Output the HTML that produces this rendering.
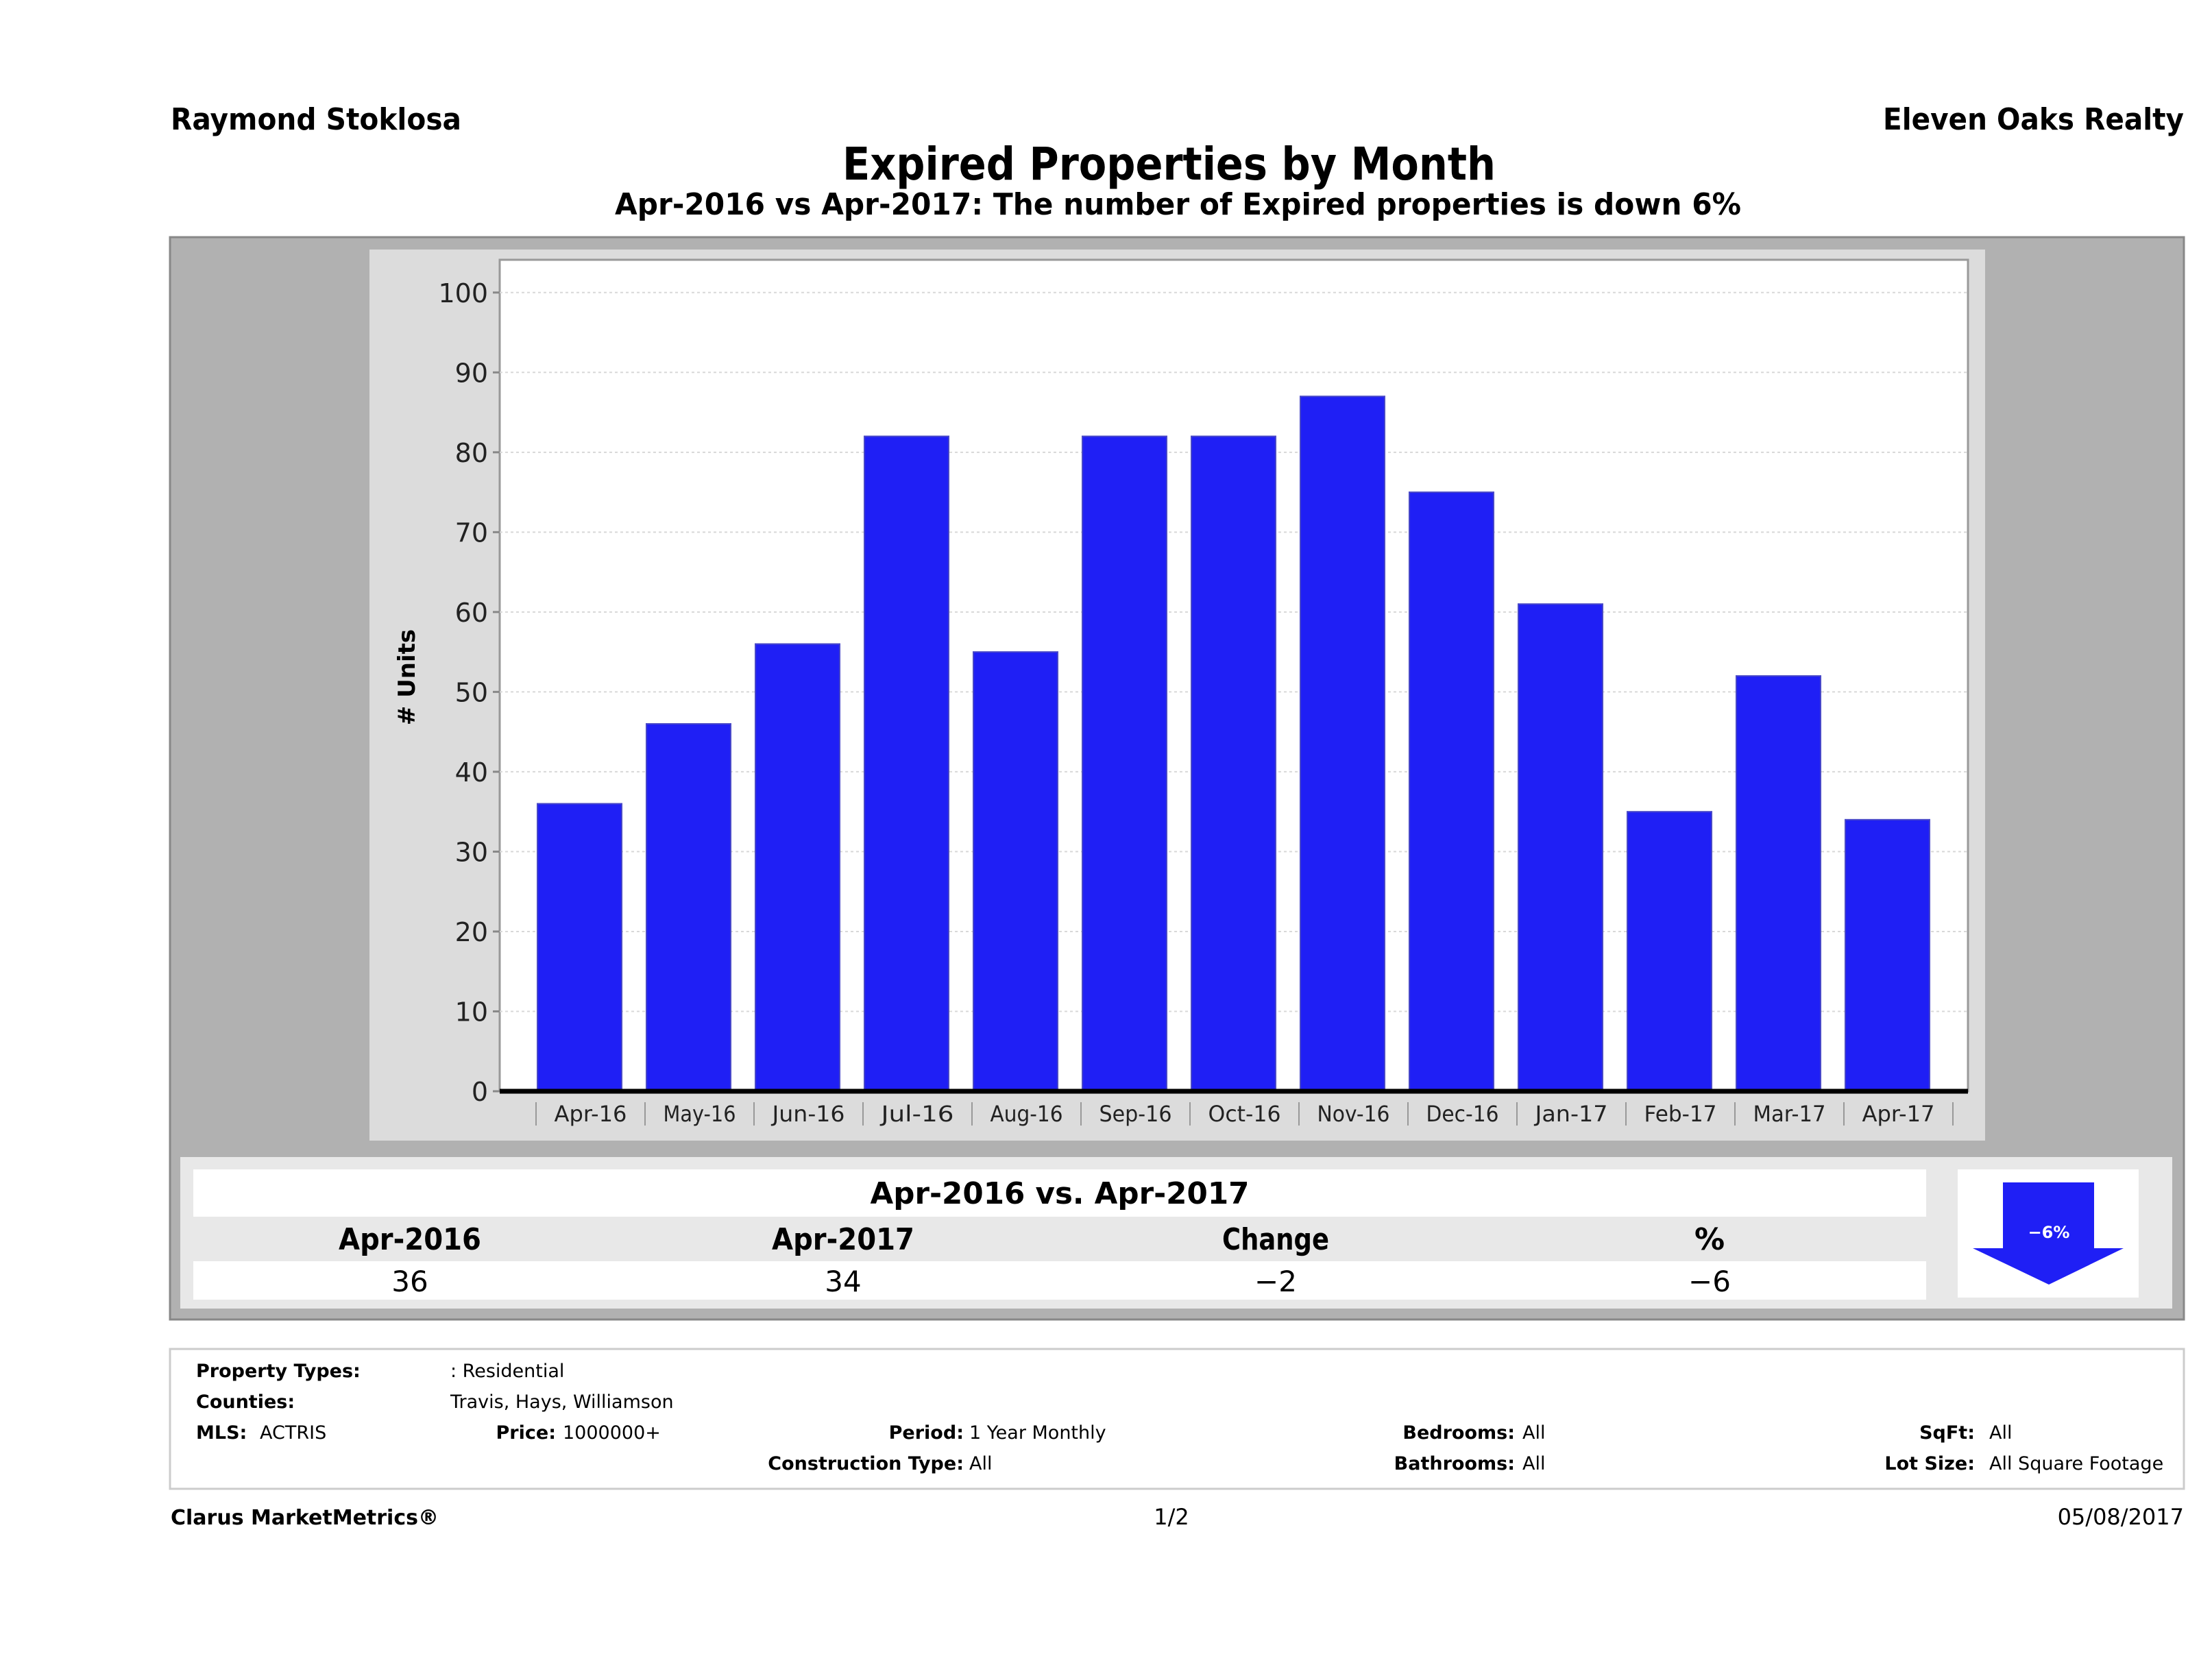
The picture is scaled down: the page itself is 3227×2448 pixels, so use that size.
<!DOCTYPE html>
<html><head><meta charset="utf-8"><style>
html,body{margin:0;padding:0;background:#fff;}
svg{display:block;font-family:"DejaVu Sans","Liberation Sans",sans-serif;}
</style></head><body>
<svg id="page" width="3227" height="2448" viewBox="0 0 3227 2448" xmlns="http://www.w3.org/2000/svg">
<rect x="0" y="0" width="3227" height="2448" fill="#fff"/>
<text x="249" y="189" font-size="44" font-weight="bold" textLength="424" lengthAdjust="spacingAndGlyphs">Raymond Stoklosa</text>
<text x="3186" y="189" font-size="44" font-weight="bold" text-anchor="end" textLength="439" lengthAdjust="spacingAndGlyphs">Eleven Oaks Realty</text>
<text x="1229" y="262" font-size="66" font-weight="bold" textLength="953" lengthAdjust="spacingAndGlyphs">Expired Properties by Month</text>
<text x="897" y="313" font-size="44" font-weight="bold" textLength="1643" lengthAdjust="spacingAndGlyphs">Apr-2016 vs Apr-2017: The number of Expired  properties is down 6%</text>

<rect x="248" y="346" width="2938" height="1579" fill="#b1b1b1" stroke="#888" stroke-width="3"/>
<rect x="539" y="364" width="2357" height="1300" fill="#dcdcdc"/>
<rect x="729" y="379" width="2142" height="1213" fill="#fff" stroke="#999" stroke-width="3"/>
<g id="grid"></g>
<g id="yticks"></g>
<g id="bars"></g>
<g id="xticks"></g>
<line x1="729" y1="1592" x2="2871" y2="1592" stroke="#000" stroke-width="7"/>
<text transform="translate(605,988) rotate(-90)" font-size="34" font-weight="bold" text-anchor="middle"># Units</text>

<rect x="263" y="1688" width="2906" height="221" fill="#e8e8e8"/>
<rect x="282" y="1706" width="2528" height="69" fill="#fff"/>
<rect x="282" y="1840" width="2528" height="56" fill="#fff"/>
<text x="1546" y="1756" font-size="44" font-weight="bold" text-anchor="middle" textLength="553" lengthAdjust="spacingAndGlyphs">Apr-2016 vs. Apr-2017</text>
<text x="598" y="1823" font-size="44" font-weight="bold" text-anchor="middle" textLength="208" lengthAdjust="spacingAndGlyphs">Apr-2016</text>
<text x="1230" y="1823" font-size="44" font-weight="bold" text-anchor="middle" textLength="208" lengthAdjust="spacingAndGlyphs">Apr-2017</text>
<text x="1861" y="1823" font-size="44" font-weight="bold" text-anchor="middle" textLength="156" lengthAdjust="spacingAndGlyphs">Change</text>
<text x="2494" y="1823" font-size="44" font-weight="bold" text-anchor="middle">%</text>
<text x="598" y="1884" font-size="42" text-anchor="middle">36</text>
<text x="1230" y="1884" font-size="42" text-anchor="middle">34</text>
<text x="1861" y="1884" font-size="42" text-anchor="middle">−2</text>
<text x="2494" y="1884" font-size="42" text-anchor="middle">−6</text>
<rect x="2856" y="1706" width="264" height="187" fill="#fff"/>
<polygon points="2922,1725 3055,1725 3055,1821 3098,1821 2989,1874 2878,1821 2922,1821" fill="#1f1ff5"/>
<text x="2989" y="1806" font-size="24" font-weight="bold" fill="#fff" text-anchor="middle">−6%</text>

<rect x="248" y="1968" width="2938" height="204" fill="#fff" stroke="#ccc" stroke-width="3"/>
<g font-size="27">
<text x="286" y="2009" font-weight="bold">Property Types:</text>
<text x="657" y="2009">: Residential</text>
<text x="286" y="2054" font-weight="bold">Counties:</text>
<text x="657" y="2054">Travis, Hays, Williamson</text>
<text x="286" y="2099" font-weight="bold">MLS:</text>
<text x="379" y="2099">ACTRIS</text>
<text x="811" y="2099" font-weight="bold" text-anchor="end">Price:</text>
<text x="821" y="2099">1000000+</text>
<text x="1406" y="2099" font-weight="bold" text-anchor="end">Period:</text>
<text x="1414" y="2099">1 Year Monthly</text>
<text x="1406" y="2144" font-weight="bold" text-anchor="end">Construction Type:</text>
<text x="1414" y="2144">All</text>
<text x="2210" y="2099" font-weight="bold" text-anchor="end">Bedrooms:</text>
<text x="2221" y="2099">All</text>
<text x="2210" y="2144" font-weight="bold" text-anchor="end">Bathrooms:</text>
<text x="2221" y="2144">All</text>
<text x="2881" y="2099" font-weight="bold" text-anchor="end">SqFt:</text>
<text x="2902" y="2099">All</text>
<text x="2881" y="2144" font-weight="bold" text-anchor="end">Lot Size:</text>
<text x="2902" y="2144">All Square Footage</text>
</g>
<text x="249" y="2224" font-size="30" font-weight="bold">Clarus MarketMetrics®</text>
<text x="1709" y="2224" font-size="32" text-anchor="middle">1/2</text>
<text x="3186" y="2224" font-size="32" text-anchor="end">05/08/2017</text>
</svg>
<script>
const categories = ["Apr-16","May-16","Jun-16","Jul-16","Aug-16","Sep-16","Oct-16","Nov-16","Dec-16","Jan-17","Feb-17","Mar-17","Apr-17"];
const expiredCounts = [36,46,56,82,55,82,82,87,75,61,35,52,34];
const yTickValues = [0,10,20,30,40,50,60,70,80,90,100];

const NS = "http://www.w3.org/2000/svg";
const plotTop = 379, plotBottom = 1592, plotLeft = 729, plotRight = 2871;
const yMax = 104.1;
function yScale(v){ return plotBottom - v * (plotBottom - plotTop) / yMax; }
const bandStart = 782, bandWidth = 159, barWidth = 123;
function xBand(i){ return bandStart + i * bandWidth; }

const gGrid = document.getElementById('grid');
const gY = document.getElementById('yticks');
yTickValues.forEach(function(v){
  const y = yScale(v);
  const ln = document.createElementNS(NS,'line');
  ln.setAttribute('x1', plotLeft); ln.setAttribute('x2', plotRight);
  ln.setAttribute('y1', y); ln.setAttribute('y2', y);
  ln.setAttribute('stroke', '#d8d8d8'); ln.setAttribute('stroke-width', '2');
  ln.setAttribute('stroke-dasharray', '4 4');
  
  
  gGrid.appendChild(ln);
  const tk = document.createElementNS(NS,'line');
  tk.setAttribute('x1', plotLeft - 10); tk.setAttribute('x2', plotLeft);
  tk.setAttribute('y1', y); tk.setAttribute('y2', y);
  tk.setAttribute('stroke', '#888'); tk.setAttribute('stroke-width', '3');
  
  
  gY.appendChild(tk);
  const t = document.createElementNS(NS,'text');
  t.setAttribute('x', 712); t.setAttribute('y', y + 14);
  t.setAttribute('font-size', '38'); t.setAttribute('text-anchor', 'end');
  t.setAttribute('fill', '#222');
  t.textContent = v;
  
  
  gY.appendChild(t);
});

const gBars = document.getElementById('bars');
const gX = document.getElementById('xticks');
categories.forEach(function(c, i){
  const x = xBand(i) + 2;
  const y = yScale(expiredCounts[i]);
  const r = document.createElementNS(NS,'rect');
  r.setAttribute('x', x); r.setAttribute('y', y);
  r.setAttribute('width', barWidth); r.setAttribute('height', plotBottom - y);
  r.setAttribute('fill', '#1f1ff5'); r.setAttribute('stroke', '#4848c8'); r.setAttribute('stroke-width', '2');
  
  
  gBars.appendChild(r);
  const sep = document.createElementNS(NS,'line');
  sep.setAttribute('x1', xBand(i)); sep.setAttribute('x2', xBand(i));
  sep.setAttribute('y1', 1608); sep.setAttribute('y2', 1642);
  sep.setAttribute('stroke', '#999'); sep.setAttribute('stroke-width', '2');
  
  
  gX.appendChild(sep);
  const t = document.createElementNS(NS,'text');
  t.setAttribute('x', xBand(i) + bandWidth / 2); t.setAttribute('y', 1636);
  t.setAttribute('font-size', '32'); t.setAttribute('text-anchor', 'middle');
  t.setAttribute('fill', '#222');
  t.setAttribute('textLength', '106'); t.setAttribute('lengthAdjust', 'spacingAndGlyphs');
  t.textContent = c;
  
  
  gX.appendChild(t);
});
const last = document.createElementNS(NS,'line');
last.setAttribute('x1', xBand(categories.length)); last.setAttribute('x2', xBand(categories.length));
last.setAttribute('y1', 1608); last.setAttribute('y2', 1642);
last.setAttribute('stroke', '#999'); last.setAttribute('stroke-width', '2');


gX.appendChild(last);
</script>
</body></html>
